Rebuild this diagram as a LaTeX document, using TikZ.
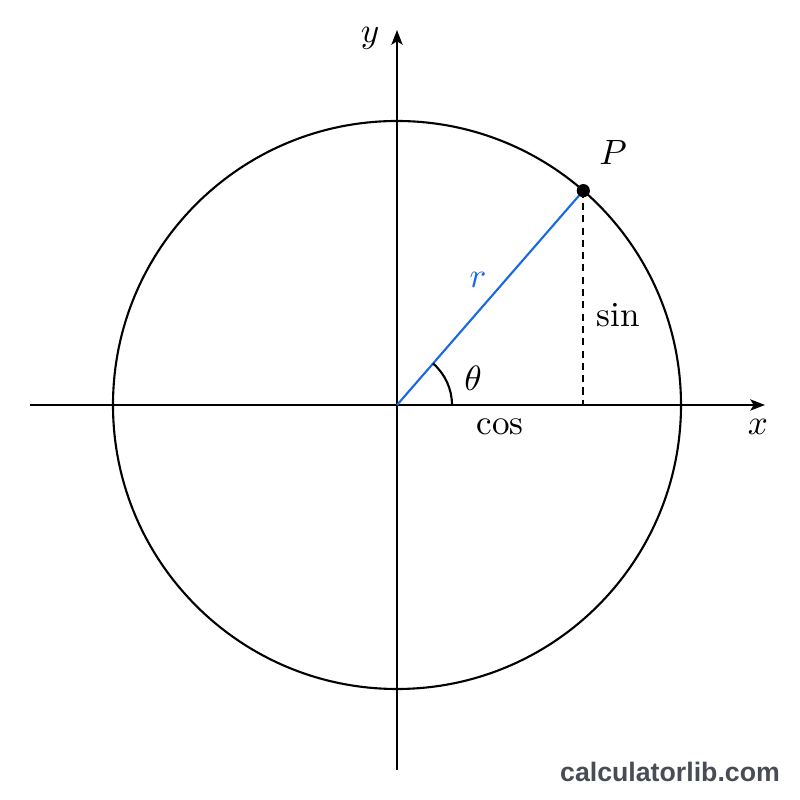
\documentclass[tikz,border=0pt]{standalone}
\usepackage{amsmath}
\usepackage{amssymb}
\usepackage{fontspec}
\newfontfamily\sitefont{Liberation Sans}
\usetikzlibrary{arrows.meta}
\definecolor{radblue}{RGB}{25,105,225}
\definecolor{sitegray}{RGB}{72,76,86}

\begin{document}
\begin{tikzpicture}[>={Stealth[length=4.2pt,width=3.2pt,inset=1pt]}, line width=0.6pt]
    \useasboundingbox (-3.97,-3.95) rectangle (4.03,4.05);
    \coordinate (O) at (0,0);
    \coordinate (xl) at (-3.67,0);
    \coordinate (xr) at (3.68,0);
    \coordinate (yb) at (0,-3.65);
    \coordinate (yt) at (0,3.75);
    \coordinate (P) at (49:2.84);
    \coordinate (Px) at (P |- O);
    \coordinate (A) at (0.55,0);
    \draw (O) circle (2.84);
    \draw[->] (xl) -- (xr);
    \draw[->] (yb) -- (yt);
    \draw[radblue] (O) -- (P);
    \draw[dash pattern=on 2pt off 1.5pt] (P) -- (Px);
    \draw (A) arc (0:49:0.55);
    \fill (P) circle (0.066);
    \node (x) at (3.61,-0.22) {$x$};
    \node (y) at (-0.27,3.67) {$y$};
    \node (PL) at (2.16,2.53) {$P$};
    \node[radblue] (r) at (0.81,1.25) {$r$};
    \node (th) at (0.76,0.27) {$\theta$};
    \node (sin) at (2.21,0.9) {$\sin$};
    \node (cos) at (1.03,-0.22) {$\cos$};
    \node[sitegray, font=\sitefont\bfseries\fontsize{7.6}{9}\selectfont] (site) at (2.73,-3.67) {calculatorlib.com};
\end{tikzpicture}
\end{document}
